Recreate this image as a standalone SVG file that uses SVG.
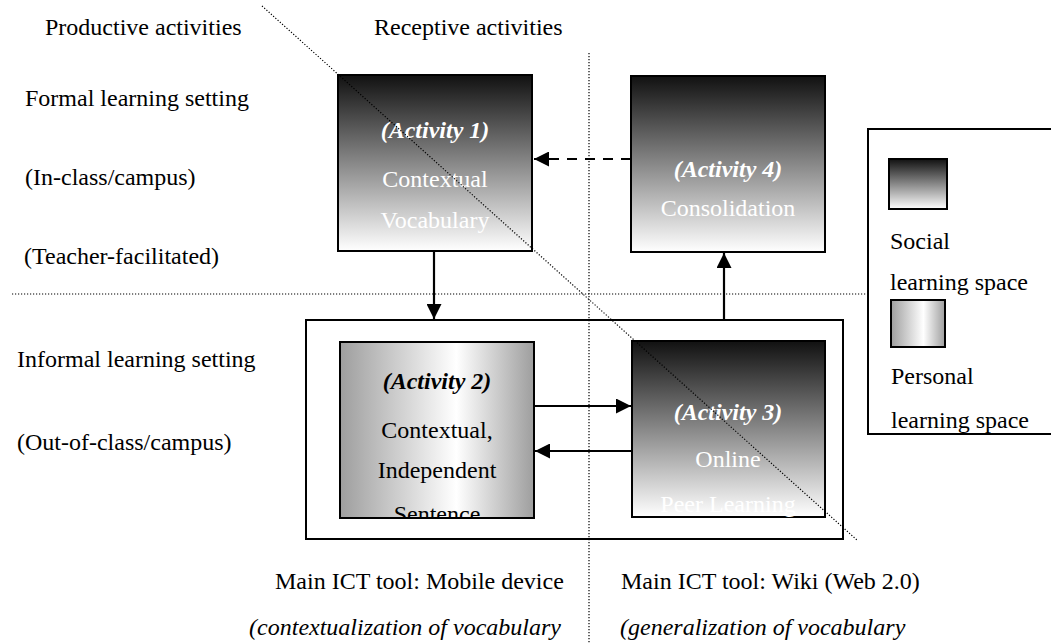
<svg xmlns="http://www.w3.org/2000/svg" width="1051" height="644" viewBox="0 0 1051 644">
<style>
text{font-family:"Liberation Serif","Times New Roman",serif;font-size:24px;fill:#000}
.c{text-anchor:middle}
.w{fill:#fff}
.act{font-weight:bold;font-style:italic}
.it{font-style:italic}
.box{stroke:#000;stroke-width:2}
.dot{stroke:#000;stroke-width:1.2;stroke-dasharray:1.2 1.8;fill:none}
.ln{stroke:#000;stroke-width:2.2;fill:none}
</style>
<defs>
<linearGradient id="social" x1="0" y1="0" x2="0" y2="1">
<stop offset="0" stop-color="#111"/>
<stop offset="1" stop-color="#fff"/>
</linearGradient>
<linearGradient id="personal" x1="0" y1="0" x2="1" y2="0">
<stop offset="0" stop-color="#9e9e9e"/>
<stop offset="0.6" stop-color="#fff"/>
<stop offset="1" stop-color="#9e9e9e"/>
</linearGradient>
<marker id="ah" viewBox="0 0 10 10" refX="10" refY="5" markerWidth="15" markerHeight="15" markerUnits="userSpaceOnUse" orient="auto">
<path d="M0,0 L10,5 L0,10 z" fill="#000"/>
</marker>
<clipPath id="c1"><rect x="338" y="75" width="194" height="176"/></clipPath>
<clipPath id="c2"><rect x="340" y="342" width="194" height="176"/></clipPath>
<clipPath id="c3"><rect x="632" y="341" width="193" height="176"/></clipPath>
<clipPath id="c4"><rect x="631" y="76" width="194" height="176"/></clipPath>
</defs>
<rect width="1051" height="644" fill="#fff"/>

<g id="labels">
<text x="45" y="35">Productive activities</text>
<text x="374" y="35">Receptive activities</text>
<text x="25" y="106">Formal learning setting</text>
<text x="25" y="185">(In-class/campus)</text>
<text x="24" y="264">(Teacher-facilitated)</text>
<text x="17" y="367">Informal learning setting</text>
<text x="17" y="450">(Out-of-class/campus)</text>
<text x="275" y="589">Main ICT tool: Mobile device</text>
<text x="621" y="589">Main ICT tool: Wiki (Web 2.0)</text>
<text x="561" y="635" class="it" text-anchor="end">(contextualization of vocabulary</text>
<text x="620" y="635" class="it">(generalization of vocabulary</text>
</g>

<g id="container">
<rect x="306" y="320" width="537" height="219" fill="none" class="box"/>
</g>

<g id="activity1">
<rect x="338" y="75" width="194" height="176" fill="url(#social)" class="box"/>
<g clip-path="url(#c1)">
<text x="435" y="138" class="c w act">(Activity 1)</text>
<text x="435" y="187" class="c w">Contextual</text>
<text x="435" y="228" class="c w">Vocabulary</text>
</g>
</g>

<g id="activity4">
<rect x="631" y="76" width="194" height="176" fill="url(#social)" class="box"/>
<g clip-path="url(#c4)">
<text x="728" y="177" class="c w act">(Activity 4)</text>
<text x="728" y="216" class="c w">Consolidation</text>
</g>
</g>

<g id="activity2">
<rect x="340" y="342" width="194" height="176" fill="url(#personal)" class="box"/>
<g clip-path="url(#c2)">
<text x="437" y="389" class="c act">(Activity 2)</text>
<text x="437" y="438" class="c">Contextual,</text>
<text x="437" y="478" class="c">Independent</text>
<text x="437" y="522" class="c">Sentence</text>
</g>
</g>

<g id="activity3">
<rect x="632" y="341" width="193" height="176" fill="url(#social)" class="box"/>
<g clip-path="url(#c3)">
<text x="728" y="420" class="c w act">(Activity 3)</text>
<text x="728" y="467" class="c w">Online</text>
<text x="728" y="512" class="c w">Peer Learning</text>
</g>
</g>

<g id="legend">
<rect x="868" y="129" width="200" height="305" fill="#fff" class="box"/>
<rect x="889" y="159" width="58" height="50" fill="url(#social)" class="box"/>
<text x="890" y="249">Social</text>
<text x="890" y="290">learning space</text>
<rect x="891" y="300" width="54" height="47" fill="url(#personal)" class="box"/>
<text x="891" y="384">Personal</text>
<text x="891" y="428">learning space</text>
</g>

<g id="connectors">
<line x1="12" y1="294" x2="867" y2="294" class="dot"/>
<line x1="589" y1="53" x2="589" y2="644" class="dot"/>
<line x1="262" y1="6" x2="858" y2="541" class="dot"/>
<line x1="434" y1="251" x2="434" y2="319" class="ln" marker-end="url(#ah)"/>
<line x1="724" y1="320" x2="724" y2="253" class="ln" marker-end="url(#ah)"/>
<line x1="631" y1="159" x2="534" y2="159" class="ln" stroke-dasharray="10 8" marker-end="url(#ah)"/>
<line x1="534" y1="406" x2="631" y2="406" class="ln" marker-end="url(#ah)"/>
<line x1="632" y1="451" x2="535" y2="451" class="ln" marker-end="url(#ah)"/>
</g>
</svg>
